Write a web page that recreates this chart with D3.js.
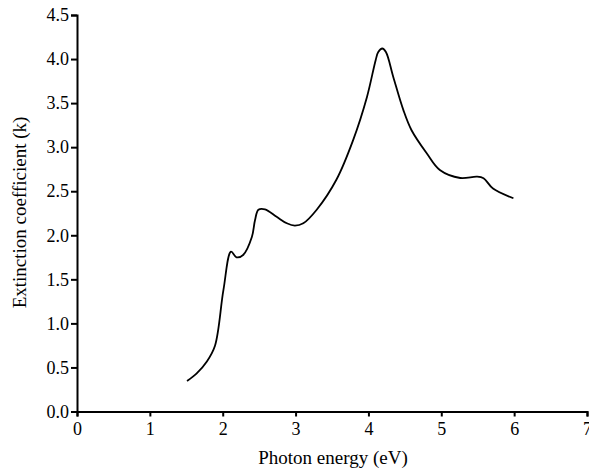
<!DOCTYPE html>
<html><head><meta charset="utf-8">
<script src="https://cdn.jsdelivr.net/npm/d3@7"></script>
<style>body{margin:0;background:#fff}svg{display:block}text{font-family:"Liberation Serif","DejaVu Serif",serif}</style>
</head><body><svg id="c" width="589" height="475"></svg>
<script>
const energy = [1.51,1.64,1.78,1.894,2.01,2.114,2.19,2.28,2.40,2.443,2.49,2.58,2.74,2.88,2.99,3.106,3.29,3.56,3.79,3.98,4.10,4.135,4.19,4.24,4.34,4.48,4.59,4.80,4.98,5.26,5.49,5.58,5.71,5.99];
const kval   = [0.346,0.43,0.565,0.747,1.38,1.814,1.75,1.776,1.98,2.17,2.29,2.295,2.21,2.136,2.11,2.136,2.29,2.63,3.08,3.57,3.99,4.08,4.12,4.08,3.80,3.42,3.195,2.93,2.74,2.65,2.665,2.647,2.53,2.42];
const xTicks = [0,1,2,3,4,5,6,7];
const yTicks = [0,0.5,1,1.5,2,2.5,3,3.5,4,4.5];

const svg = d3.select("#c");
const x = d3.scaleLinear().domain([0,7]).range([77,587]);
const y = d3.scaleLinear().domain([0,4.5]).range([411.5,15]);

const xa = svg.append("g").attr("transform","translate(0,411.5)")
  .call(d3.axisBottom(x).tickValues(xTicks).tickFormat(d3.format("d")).tickSizeOuter(0).tickSize(5));
const ya = svg.append("g").attr("transform","translate(77,0)")
  .call(d3.axisLeft(y).tickValues(yTicks).tickFormat(d3.format(".1f")).tickSizeOuter(0).tickSize(6));
[xa,ya].forEach(a=>{
  a.select(".domain").attr("stroke","#000").attr("stroke-width",2);
  a.selectAll(".tick line").attr("stroke","#000").attr("stroke-width",2);
  a.selectAll(".tick text").attr("fill","#000").style("font-size","18px").style("font-family","'Liberation Serif',serif");
});
xa.selectAll(".tick text").attr("y",8).attr("dy","0.85em");
ya.selectAll(".tick text").attr("x",-8);

const pts = energy.map((e,i)=>[e,kval[i]]);
svg.append("path").datum(pts)
  .attr("fill","none").attr("stroke","#000").attr("stroke-width",1.8)
  .attr("d", d3.line().x(d=>x(d[0])).y(d=>y(d[1])).curve(d3.curveCatmullRom.alpha(0.5)));

svg.append("text").attr("x",333).attr("y",464).attr("text-anchor","middle")
  .style("font-size","19px").text("Photon energy (eV)");
svg.append("text").attr("transform","translate(26,212.5) rotate(-90)").attr("text-anchor","middle")
  .style("font-size","19px").text("Extinction coefficient (k)");
</script></body></html>
